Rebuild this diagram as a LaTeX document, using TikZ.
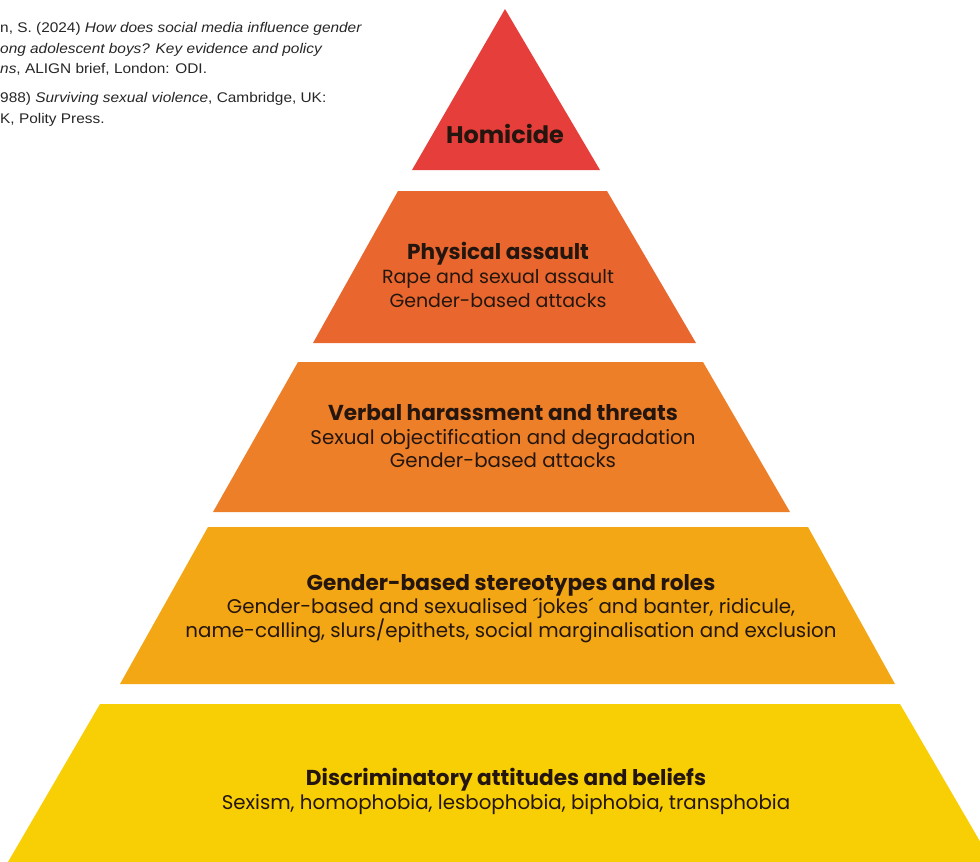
\documentclass[tikz,border=0pt]{standalone}
\usepackage{fontspec}
\setmainfont{Poppins}
\newfontfamily\reffont[FakeStretch=1.1]{Liberation Sans}
\definecolor{lvA}{HTML}{E63F3B}
\definecolor{lvB}{HTML}{E9672E}
\definecolor{lvC}{HTML}{EE7F29}
\definecolor{lvD}{HTML}{F4A714}
\definecolor{lvE}{HTML}{F8CE05}
\definecolor{ink}{HTML}{24160E}
\tikzset{
  ttl/.style={anchor=base, inner sep=0pt, text=ink, font=\fontsize{21.6}{26}\selectfont\bfseries},
  bdy/.style={anchor=base, inner sep=0pt, text=ink, font=\fontsize{19.8}{24}\selectfont},
  bdys/.style={bdy, font=\fontsize{19}{24}\selectfont},
  refl/.style={anchor=base west, inner sep=0pt, text=black!85, font=\reffont\fontsize{14}{16}\selectfont},
}
\begin{document}
\begin{tikzpicture}[x=1pt,y=-1pt]
\useasboundingbox (0,0) rectangle (980,862);
\clip (0,0) rectangle (980,862);
% pyramid levels
\fill[lvA] (505,9) -- (600,170) -- (412,170) -- cycle;
\fill[lvB] (398,191) -- (607,191) -- (696,343) -- (313,343) -- cycle;
\fill[lvC] (298,362) -- (703,362) -- (790,512) -- (213,512) -- cycle;
\fill[lvD] (208,527) -- (808,527) -- (895,684) -- (120,684) -- cycle;
\fill[lvE] (100,704) -- (900,704) -- (992,862) -- (8,862) -- cycle;
% texts
\node[ttl, font=\fontsize{24}{28}\selectfont\bfseries] (h1) at (505,143) {Homicide};
\node[ttl] (p1) at (498,259) {Physical assault};
\node[bdys] (p2) at (498,283) {Rape and sexual assault};
\node[bdys] (p3) at (498,307) {Gender-based attacks};
\node[ttl] (v1) at (503,420) {Verbal harassment and threats};
\node[bdy] (v2) at (503,444) {Sexual objectification and degradation};
\node[bdy] (v3) at (503,467) {Gender-based attacks};
\node[ttl] (s1) at (511,590) {Gender-based stereotypes and roles};
\node[bdy] (s2) at (511,613) {Gender-based and sexualised ´jokes´ and banter, ridicule,};
\node[bdy] (s3) at (511,637) {name-calling, slurs/epithets, social marginalisation and exclusion};
\node[ttl] (d1) at (506,785) {Discriminatory attitudes and beliefs};
\node[bdy] (d2) at (506,809) {Sexism, homophobia, lesbophobia, biphobia, transphobia};
% reference text
\node[refl] (r1) at (0,32) {n, S. (2024) \textit{How does social media influence gender}};
\node[refl] (r2) at (0,53) {\textit{ong adolescent boys? Key evidence and policy}};
\node[refl] (r3) at (0,73) {\textit{ns}, ALIGN brief, London: ODI.};
\node[refl] (r4) at (0,102) {988) \textit{Surviving sexual violence}, Cambridge, UK:};
\node[refl] (r5) at (0,123) {K, Polity Press.};
\end{tikzpicture}
\end{document}
